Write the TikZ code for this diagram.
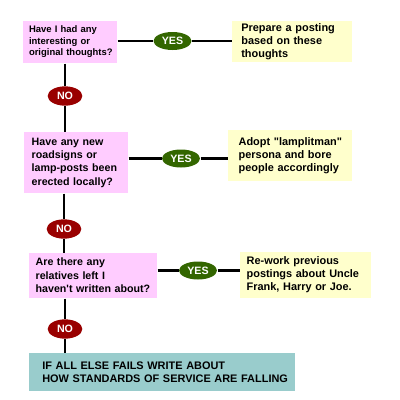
\documentclass[tikz,border=0pt]{standalone}
\usepackage{fontspec}
\setmainfont{Liberation Sans}[Ligatures=TeXOff]
\usetikzlibrary{shapes.geometric}

\definecolor{askpink}{RGB}{255,204,255}
\definecolor{dotyellow}{RGB}{255,255,204}
\definecolor{lastteal}{RGB}{153,204,204}
\definecolor{yesgreen}{RGB}{51,102,0}
\definecolor{nored}{RGB}{153,0,0}

\tikzset{every picture/.style={line width=0.75pt}}

\begin{document}
\begin{tikzpicture}[x=0.75pt,y=0.75pt,yscale=-1,
	ask/.style={rectangle,fill=askpink,inner ysep=0pt,align=left,font=\bfseries\fontsize{8}{10}\selectfont},
	todo/.style={rectangle,fill=dotyellow,inner ysep=0pt,align=left,font=\bfseries\fontsize{8.2}{9.8}\selectfont},
	yesoval/.style={ellipse,fill=yesgreen,text=white,inner sep=0pt,minimum width=28.5pt,minimum height=13.5pt,font=\bfseries\fontsize{8}{9}\selectfont},
	nooval/.style={ellipse,fill=nored,text=white,inner sep=0pt,minimum width=26pt,minimum height=14.5pt,font=\bfseries\fontsize{8}{9}\selectfont},
	link/.style={line width=2.2pt}]
	\useasboundingbox (0,0) rectangle (400,400);

	%Shape: Rectangle [question 1]
	\draw (70,42) node (q1) [ask,font=\bfseries\fontsize{7.1}{8.6}\selectfont,inner xsep=4.5pt,text width=61.5pt,minimum width=70.5pt,minimum height=31.5pt] {\mbox{Have I had any}\\\mbox{interesting or}\\\mbox{original thoughts?}};
	%Shape: Rectangle [answer 1]
	\draw (292,41.5) node (a1) [todo,inner xsep=7pt,text width=76pt,minimum width=90pt,minimum height=30.75pt] {\mbox{Prepare a posting}\\\mbox{based on these}\\\mbox{thoughts}};
	%Shape: Rectangle [question 2]
	\draw (76,162.5) node (q2) [ask,inner xsep=5.8pt,text width=66.4pt,minimum width=78pt,minimum height=45.75pt] {\mbox{Have any new}\\\mbox{roadsigns or}\\\mbox{lamp-posts been}\\\mbox{erected locally?}};
	%Shape: Rectangle [answer 2]
	\draw (290,155.5) node (a2) [todo,inner xsep=8pt,text width=77pt,minimum width=93pt,minimum height=38.25pt] {\mbox{Adopt "lamplitman"}\\\mbox{persona and bore}\\\mbox{people accordingly}};
	%Shape: Rectangle [question 3]
	\draw (93,275.5) node (q3) [ask,inner xsep=5pt,text width=86pt,minimum width=96pt,minimum height=33.75pt] {\mbox{Are there any}\\\mbox{relatives left I}\\\mbox{haven't written about?}};
	%Shape: Rectangle [answer 3]
	\draw (305.5,275) node (a3) [todo,inner xsep=5pt,text width=88.25pt,minimum width=98.25pt,minimum height=34.5pt] {\mbox{Re-work previous}\\\mbox{postings about Uncle}\\\mbox{Frank, Harry or Joe.}};
	%Shape: Rectangle [last resort]
	\draw (162,372) node (f) [rectangle,fill=lastteal,inner ysep=0pt,inner xsep=10pt,text width=179.5pt,minimum width=199.5pt,minimum height=28.5pt,align=left,font=\bfseries\fontsize{8.2}{9.5}\selectfont] {\mbox{IF ALL ELSE FAILS WRITE ABOUT}\\\mbox{HOW STANDARDS OF SERVICE ARE FALLING}};

	%Shape: Ellipse [yes / no]
	\draw (172.5,41) node (y1) [yesoval] {YES};
	\draw (181,158.5) node (y2) [yesoval] {YES};
	\draw (198,270.5) node (y3) [yesoval] {YES};
	\draw (65,96) node (n1) [nooval] {NO};
	\draw (64,229) node (n2) [nooval] {NO};
	\draw (65,329) node (n3) [nooval] {NO};

	%Straight Lines [yes branches]
	\draw [link] (q1.east |- y1) -- (y1.west) ;
	\draw [link] (y1.east) -- (a1.west |- y1) ;
	\draw [link] (q2.east |- y2) -- (y2.west) ;
	\draw [link] (y2.east) -- (a2.west |- y2) ;
	\draw [link] (q3.east |- y3) -- (y3.west) ;
	\draw [link] (y3.east) -- (a3.west |- y3) ;
	%Straight Lines [no branches]
	\draw [link] (q1.south -| n1) -- (n1.north) ;
	\draw [link] (n1.south) -- (n1 |- q2.north) ;
	\draw [link] (q2.south -| n2) -- (n2.north) ;
	\draw [link] (n2.south) -- (n2 |- q3.north) ;
	\draw [link] (q3.south -| n3) -- (n3.north) ;
	\draw [link] (n3.south) -- (n3 |- f.north) ;

\end{tikzpicture}
\end{document}
